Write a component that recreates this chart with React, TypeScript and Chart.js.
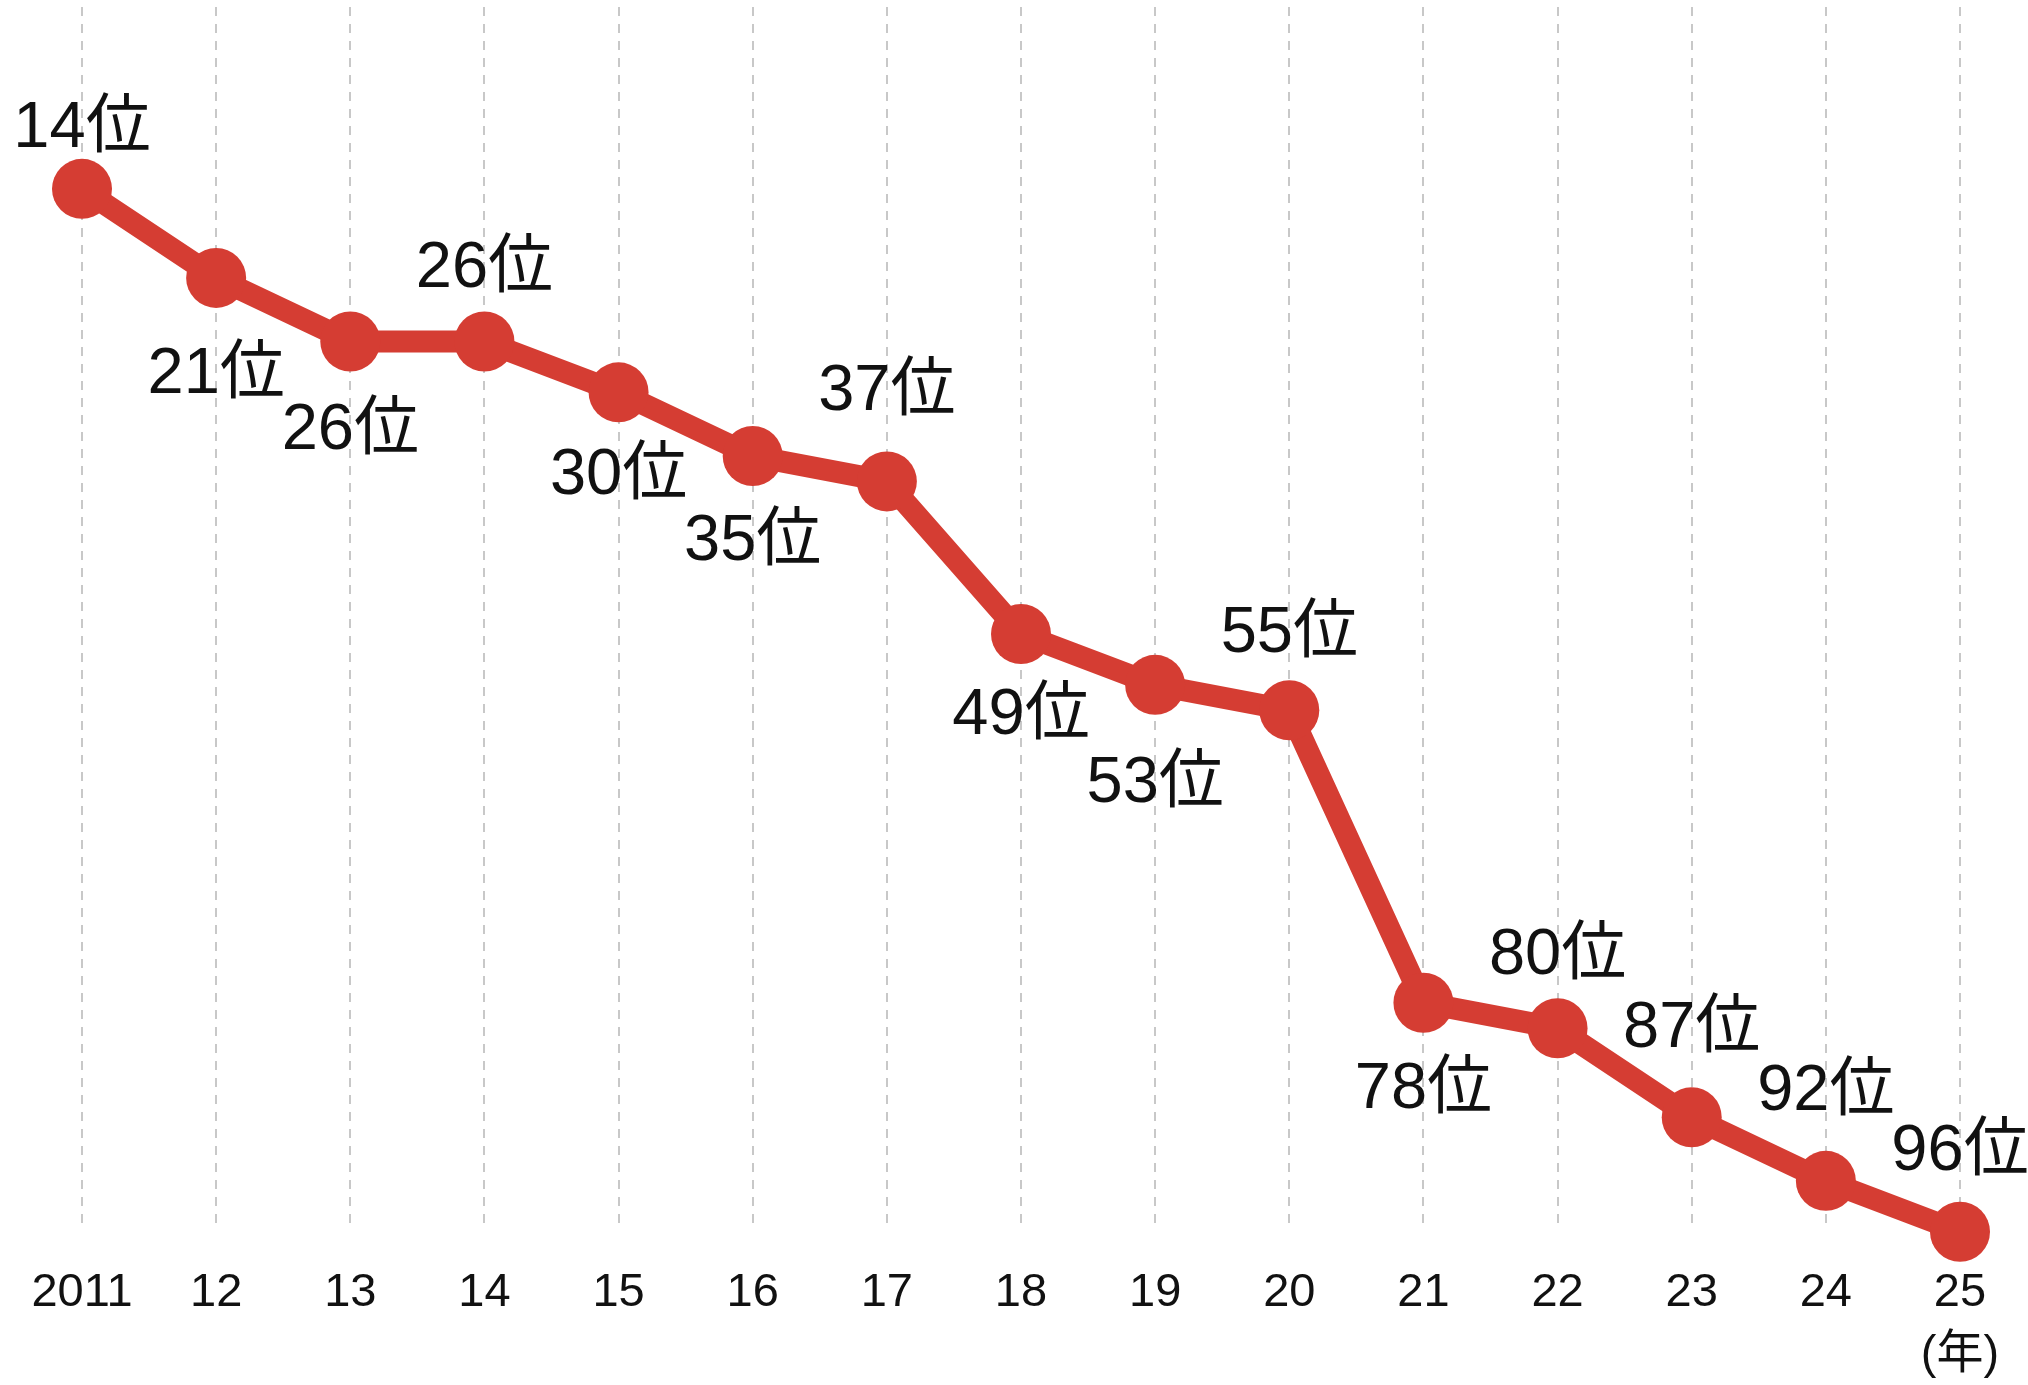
import React, { useEffect, useRef } from "react";
import { Chart, registerables } from "chart.js";

Chart.register(...registerables);

// ---- data ----
const years: string[] = ["2011", "12", "13", "14", "15", "16", "17", "18", "19", "20", "21", "22", "23", "24", "25"];
const ranks: number[] = [14, 21, 26, 26, 30, 35, 37, 49, 53, 55, 78, 80, 87, 92, 96];
const rankLabels: string[] = ranks.map((r) => `${r}位`);
const unitLabel = "(年)";
// label vertical offsets (px) from each point: negative = above, positive = below
const labelOffsets: number[] = [-60, 97, 90, -72, 84, 86, -89, 82, 99, -76, 87, -72, -88, -89, -80];

const RED = "#D53D33";

const tickLabels: (string | string[])[] = years.map((y, i) => (i === years.length - 1 ? [y, unitLabel] : y));

const labelPlugin = {
  id: "rankLabels",
  afterDatasetsDraw(chart: any) {
    const ctx = chart.ctx;
    const meta = chart.getDatasetMeta(0);
    ctx.save();
    ctx.font = "65px 'Liberation Sans', 'Noto Sans CJK JP', sans-serif";
    ctx.fillStyle = "#111";
    ctx.textAlign = "center";
    ctx.textBaseline = "middle";
    meta.data.forEach((pt: any, i: number) => {
      ctx.fillText(rankLabels[i], pt.x, pt.y + labelOffsets[i]);
    });
    ctx.restore();
  },
};

export default function App() {
  const ref = useRef<HTMLCanvasElement | null>(null);
  useEffect(() => {
    if (!ref.current) return;
    const chart = new Chart(ref.current, {
      type: "line",
      data: {
        labels: tickLabels,
        datasets: [
          {
            data: ranks,
            borderColor: RED,
            backgroundColor: RED,
            borderWidth: 22,
            pointRadius: 30,
            pointHoverRadius: 30,
            pointBackgroundColor: RED,
            pointBorderWidth: 0,
            tension: 0,
            clip: false as any,
          },
        ],
      },
      options: {
        animation: false,
        responsive: true,
        maintainAspectRatio: false,
        layout: { autoPadding: false, padding: { top: 7, left: 82, right: 68, bottom: 0 } },
        plugins: { legend: { display: false }, tooltip: { enabled: false } },
        events: [],
        scales: {
          x: {
            type: "category",
            offset: false,
            afterFit: (scale: any) => {
              scale.height = 160;
            },
            grid: {
              display: true,
              drawOnChartArea: true,
              drawTicks: true,
              tickLength: 37,
              tickColor: "rgba(0,0,0,0)",
              color: "#c8c8c8",
              lineWidth: 2,
            },
            border: { display: false, dash: [9, 8] },
            ticks: {
              padding: 0,
              color: "#111",
              maxRotation: 0,
              autoSkip: false,
              font: {
                family: "'Liberation Sans Narrow', 'Liberation Sans', 'Noto Sans CJK JP', sans-serif",
                size: 47,
                lineHeight: 1.32,
              },
            },
          },
          y: {
            type: "linear",
            reverse: true,
            min: -0.3,
            max: 95.47,
            display: false,
          },
        },
      },
      plugins: [labelPlugin],
    });
    return () => chart.destroy();
  }, []);
  return (
    <div style={{ position: "fixed", left: 0, top: 0, width: 2028, height: 1385, background: "#fff" }}>
      <canvas ref={ref} />
    </div>
  );
}
